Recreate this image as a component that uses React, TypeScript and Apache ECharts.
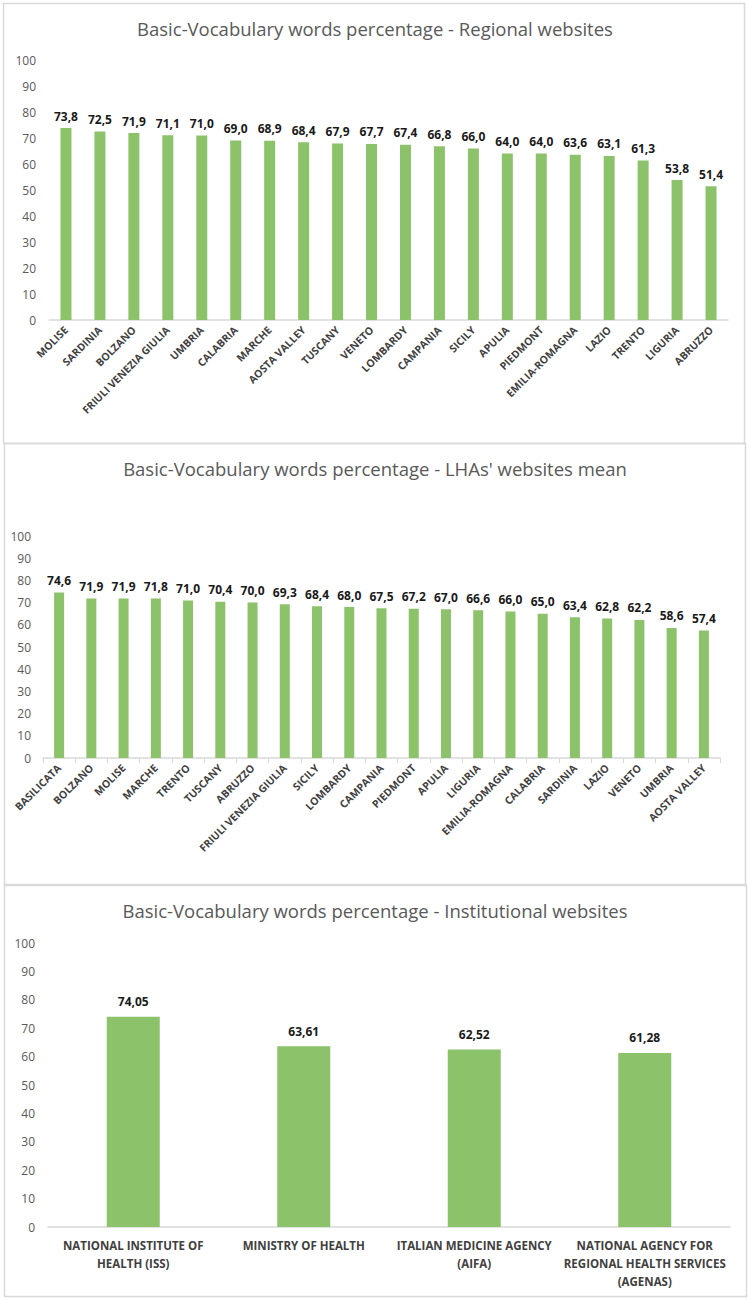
import React, { useEffect, useRef } from "react";
import * as echarts from "echarts";

const regionalCats = ["MOLISE", "SARDINIA", "BOLZANO", "FRIULI VENEZIA GIULIA", "UMBRIA", "CALABRIA", "MARCHE", "AOSTA VALLEY", "TUSCANY", "VENETO", "LOMBARDY", "CAMPANIA", "SICILY", "APULIA", "PIEDMONT", "EMILIA-ROMAGNA", "LAZIO", "TRENTO", "LIGURIA", "ABRUZZO"];
const regionalVals = [73.8, 72.5, 71.9, 71.1, 71.0, 69.0, 68.9, 68.4, 67.9, 67.7, 67.4, 66.8, 66.0, 64.0, 64.0, 63.6, 63.1, 61.3, 53.8, 51.4];

const lhaCats = ["BASILICATA", "BOLZANO", "MOLISE", "MARCHE", "TRENTO", "TUSCANY", "ABRUZZO", "FRIULI VENEZIA GIULIA", "SICILY", "LOMBARDY", "CAMPANIA", "PIEDMONT", "APULIA", "LIGURIA", "EMILIA-ROMAGNA", "CALABRIA", "SARDINIA", "LAZIO", "VENETO", "UMBRIA", "AOSTA VALLEY"];
const lhaVals = [74.6, 71.9, 71.9, 71.8, 71.0, 70.4, 70.0, 69.3, 68.4, 68.0, 67.5, 67.2, 67.0, 66.6, 66.0, 65.0, 63.4, 62.8, 62.2, 58.6, 57.4];

const instCats = ["NATIONAL INSTITUTE OF\nHEALTH (ISS)", "MINISTRY OF HEALTH", "ITALIAN MEDICINE AGENCY\n(AIFA)", "NATIONAL AGENCY FOR\nREGIONAL HEALTH SERVICES\n(AGENAS)"];
const instVals = [74.05, 63.61, 62.52, 61.28];

const titles = [
  "Basic-Vocabulary words percentage - Regional websites",
  "Basic-Vocabulary words percentage - LHAs' websites mean",
  "Basic-Vocabulary words percentage - Institutional websites",
];
const yTicks = [0, 10, 20, 30, 40, 50, 60, 70, 80, 90, 100];

const FONT = "'Open Sans', 'Noto Sans', sans-serif";
const GREEN = "#8cc26a";

export default function App() {
  const ref = useRef<HTMLDivElement>(null);
  useEffect(() => {
    document.body.style.margin = "0";
    const chart = echarts.init(ref.current!, undefined, { renderer: "svg" });
    const fmt = (d: number) => (v: any) => Number(v.value).toFixed(d).replace(".", ",");
    const yAxisBase = (gi: number, margin: number) => ({
      type: "value",
      gridIndex: gi,
      min: yTicks[0],
      max: yTicks[yTicks.length - 1],
      interval: 10,
      axisLine: { show: false },
      axisTick: { show: false },
      splitLine: { show: false },
      axisLabel: { color: "#595959", fontSize: 12, fontFamily: FONT, margin },
    });
    const rotLabel = {
      interval: 0,
      rotate: 45,
      color: "#404040",
      fontSize: 10.5,
      fontWeight: "bold",
      fontFamily: FONT,
      margin: 8,
    };
    const titleStyle = { fontFamily: FONT, fontSize: 18.5, fontWeight: "normal", color: "#595959" };
    const option: any = {
      animation: false,
      title: [
        { text: titles[0], left: "center", top: 19, padding: 0, textStyle: titleStyle },
        { text: titles[1], left: "center", top: 459, padding: 0, textStyle: titleStyle },
        { text: titles[2], left: "center", top: 901, padding: 0, textStyle: titleStyle },
      ],
      grid: [
        { left: 49, top: 60, width: 679, height: 260 },
        { left: 43, top: 536, width: 677, height: 222 },
        { left: 48, top: 943, width: 682, height: 284 },
      ],
      xAxis: [
        {
          type: "category", gridIndex: 0, data: regionalCats,
          axisLine: { lineStyle: { color: "#d9d9d9", width: 1.5 } },
          axisTick: { show: false },
          axisLabel: rotLabel,
        },
        {
          type: "category", gridIndex: 1, data: lhaCats,
          axisLine: { lineStyle: { color: "#d9d9d9", width: 1.5 } },
          axisTick: { show: true, length: 5, lineStyle: { color: "#d9d9d9" } },
          axisLabel: rotLabel,
        },
        {
          type: "category", gridIndex: 2, data: instCats,
          axisLine: { lineStyle: { color: "#d9d9d9", width: 1.5 } },
          axisTick: { show: false },
          axisLabel: { interval: 0, color: "#404040", fontSize: 11.5, fontWeight: "bold", fontFamily: FONT, lineHeight: 18, margin: 9 },
        },
      ],
      yAxis: [yAxisBase(0, 13), yAxisBase(1, 12), yAxisBase(2, 13)],
      series: [
        {
          type: "bar", xAxisIndex: 0, yAxisIndex: 0, data: regionalVals, barWidth: 11,
          itemStyle: { color: GREEN },
          label: { show: true, position: "top", distance: 6, formatter: fmt(1), color: "#1a1a1a", fontSize: 12, fontWeight: "bold", fontFamily: FONT },
        },
        {
          type: "bar", xAxisIndex: 1, yAxisIndex: 1, data: lhaVals, barWidth: 10,
          itemStyle: { color: GREEN },
          label: { show: true, position: "top", distance: 6, formatter: fmt(1), color: "#1a1a1a", fontSize: 12, fontWeight: "bold", fontFamily: FONT },
        },
        {
          type: "bar", xAxisIndex: 2, yAxisIndex: 2, data: instVals, barWidth: 53,
          itemStyle: { color: GREEN },
          label: { show: true, position: "top", distance: 9, formatter: fmt(2), color: "#1a1a1a", fontSize: 12, fontWeight: "bold", fontFamily: FONT },
        },
      ],
      graphic: [
        { type: "rect", shape: { x: 3.5, y: 3.5, width: 741, height: 440 }, style: { fill: "none", stroke: "#d9d9d9", lineWidth: 1.5 }, silent: true },
        { type: "rect", shape: { x: 4.5, y: 443.5, width: 741, height: 441 }, style: { fill: "none", stroke: "#d9d9d9", lineWidth: 1.5 }, silent: true },
        { type: "rect", shape: { x: 4.5, y: 885.5, width: 742, height: 411 }, style: { fill: "none", stroke: "#d9d9d9", lineWidth: 1.5 }, silent: true },
      ],
    };
    chart.setOption(option);
    return () => chart.dispose();
  }, []);
  return <div ref={ref} style={{ width: 750, height: 1300 }} />;
}
